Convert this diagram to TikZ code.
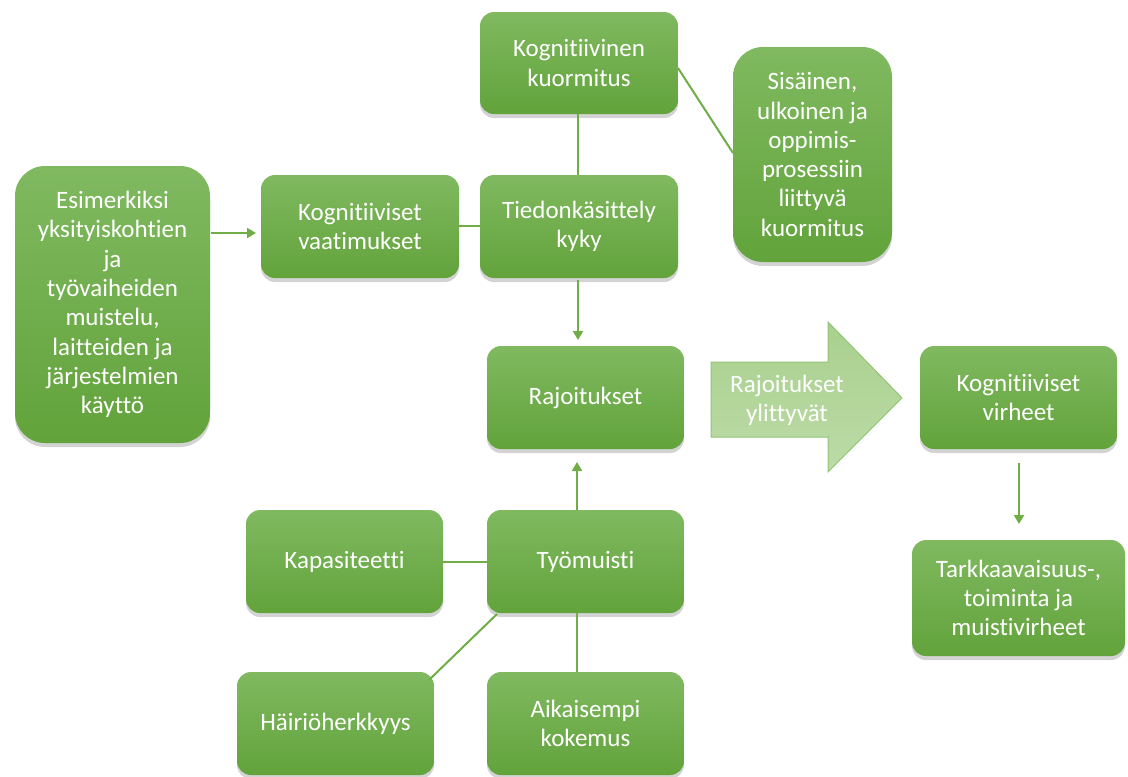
\documentclass[tikz,border=0pt]{standalone}
\usepackage{fontspec}
\setmainfont{Carlito}[Ligatures={NoCommon,NoContextual,NoRare}]
\usetikzlibrary{shadows,arrows.meta}
\definecolor{gtop}{HTML}{80B960}
\definecolor{gbot}{HTML}{62A33B}
\definecolor{lin}{HTML}{70AD47}
\definecolor{atop}{HTML}{A9D08E}
\definecolor{abot}{HTML}{BCDBA7}
\definecolor{aedge}{HTML}{92C475}
\tikzset{
  gbox/.style={rectangle, rounded corners=14pt, top color=gtop, bottom color=gbot,
    draw=none, text=white, align=center, font=\fontsize{25}{29.3}\selectfont,
    drop shadow={opacity=0.35, shadow xshift=0pt, shadow yshift=-4pt},
    inner sep=2pt},
  conn/.style={draw=lin, line width=2pt},
  arr/.style={conn, -{Triangle[length=9pt,width=10pt]}},
}
\begin{document}
\begin{tikzpicture}[x=1pt,y=-1pt]
\useasboundingbox (0,0) rectangle (1128,777);
% boxes
\node[gbox, rounded corners=30pt, minimum width=195pt, minimum height=277pt] (esim) at (112.5,304.5)
  {Esimerkiksi\\yksityiskohtien\\ja\\työvaiheiden\\muistelu,\\laitteiden ja\\järjestelmien\\käyttö};
\node[gbox, minimum width=198pt, minimum height=103pt] (vaat) at (360,226.5) {Kognitiiviset\\vaatimukset};
\node[gbox, minimum width=198pt, minimum height=102pt] (kuor) at (579,63) {Kognitiivinen\\kuormitus};
\node[gbox, minimum width=198pt, minimum height=103pt] (tied) at (579,226.5) {Tiedonkäsittely\\kyky};
\node[gbox, rounded corners=30pt, minimum width=159pt, minimum height=215pt] (sisa) at (812.5,154.5)
  {Sisäinen,\\ulkoinen ja\\oppimis-\\prosessiin\\liittyvä\\kuormitus};
\node[gbox, minimum width=197pt, minimum height=103pt] (rajo) at (585.5,397.5) {Rajoitukset};
\node[gbox, minimum width=197pt, minimum height=103pt] (virh) at (1018.5,397.5) {Kognitiiviset\\virheet};
\node[gbox, minimum width=213pt, minimum height=116pt] (tark) at (1018.5,598) {Tarkkaavaisuus-,\\toiminta ja\\muistivirheet};
\node[gbox, minimum width=197pt, minimum height=103pt] (kapa) at (344.5,561.5) {Kapasiteetti};
\node[gbox, minimum width=197pt, minimum height=103pt] (tyom) at (585.5,561.5) {Työmuisti};
\node[gbox, minimum width=197pt, minimum height=103pt] (hair) at (335.5,723.5) {Häiriöherkkyys};
\node[gbox, minimum width=197pt, minimum height=103pt] (aika) at (585.5,723.5) {Aikaisempi\\kokemus};
% big arrow
\draw[aedge, line width=1pt, top color=atop, bottom color=abot]
  (711,362) -- (828,362) -- (828,322) -- (902,398) -- (828,472) -- (828,437) -- (711,437) -- cycle;
\node[text=white, align=center, font=\fontsize{25}{29.3}\selectfont] (rylit) at (787,400) {Rajoitukset\\ylittyvät};
% connectors
\coordinate (a1s) at (211,233);
\coordinate (a1e) at (256,233);
\draw[arr] (a1s) -- (a1e);
\draw[conn] (vaat.east |- 0,226) -- (tied.west |- 0,226);
\draw[conn] (kuor.south -| 578,0) -- (tied.north -| 578,0);
\coordinate (ks) at (678,68);
\coordinate (ss) at (733,153);
\draw[conn] (ks) -- (ss);
\coordinate (t1) at (578,280);
\coordinate (t2) at (578,340);
\draw[arr] (t1) -- (t2);
\coordinate (w1) at (577,510);
\coordinate (w2) at (577,462);
\draw[arr] (w1) -- (w2);
\draw[conn] (kapa.east |- 0,562) -- (tyom.west |- 0,562);
\coordinate (d1) at (497,614);
\coordinate (d2) at (429,680);
\draw[conn] (d1) -- (d2);
\draw[conn] (tyom.south -| 577,0) -- (aika.north -| 577,0);
\coordinate (v1) at (1019,463);
\coordinate (v2) at (1019,524);
\draw[arr] (v1) -- (v2);
\end{tikzpicture}
\end{document}
